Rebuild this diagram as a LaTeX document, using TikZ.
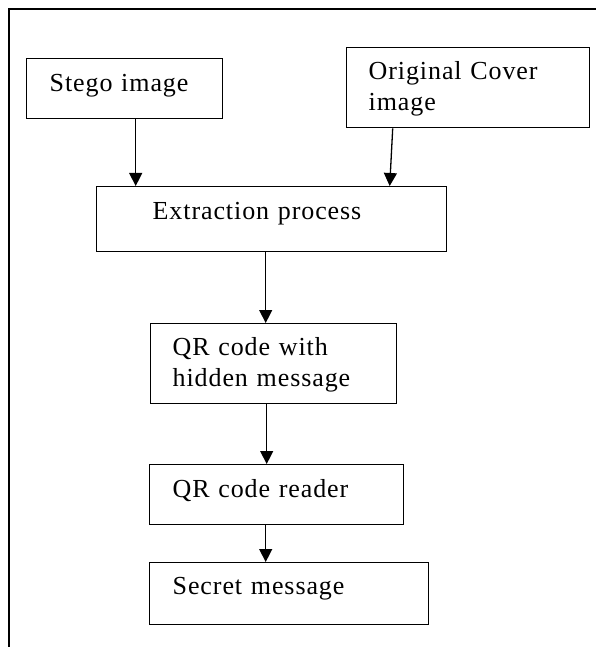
\documentclass[tikz,border=0pt]{standalone}
\usepackage{xcolor}
\usepackage{fontspec}
\setmainfont{Liberation Serif}
\newfontfamily\boxfont{Liberation Serif}[LetterSpace=3.5]
\usetikzlibrary{arrows.meta}

\tikzset{
    stepbox/.style={draw,rectangle,line width=1.4pt,anchor=north west,align=left,
        inner ysep=0pt,inner xsep=22pt,font=\boxfont\fontsize{26}{30.5}\selectfont},
    flow/.style={-{Triangle[length=13pt,width=13pt]},line width=1.3pt}
}

\begin{document}
\begin{tikzpicture}[x=1pt,y=-1pt]
    \useasboundingbox (0,0) rectangle (596,647);
    \draw[line width=1.4pt] (9,647) -- (9,9) -- (596,9);
    \path
        (26,58)     node[stepbox,inner xsep=23pt,text width=150pt,text height=32.7pt,text depth=27.3pt] (stg){Stego image}
        (346,47)    node[stepbox,text width=199pt,text height=32pt,text depth=48pt] (cov){Original Cover\\image}
        (96,186)    node[stepbox,inner xsep=56pt,text width=238pt,text height=33pt,text depth=32pt] (ext){Extraction process}
        (150,323)   node[stepbox,text width=202pt,text height=32pt,text depth=48pt] (qrm){QR code with\\hidden message}
        (149,464)   node[stepbox,inner xsep=23pt,text width=208pt,text height=33pt,text depth=27pt] (qrr){QR code reader}
        (149,562)   node[stepbox,inner xsep=23pt,text width=233pt,text height=32pt,text depth=30pt] (sec){Secret message}
     ;
     \draw [flow] ([xshift=11pt]stg.south) -- ([xshift=11pt]stg.south |- ext.north);
     \draw [flow] ([xshift=-75.5pt]cov.south) -- ([xshift=-78.5pt]cov.south |- ext.north);
     \draw [flow] ([xshift=-6pt]ext.south) -- ([xshift=-6pt]ext.south |- qrm.north);
     \draw [flow] ([xshift=-7pt]qrm.south) -- ([xshift=-7pt]qrm.south |- qrr.north);
     \draw [flow] ([xshift=-11pt]qrr.south) -- ([xshift=-11pt]qrr.south |- sec.north);
\end{tikzpicture}
\end{document}
